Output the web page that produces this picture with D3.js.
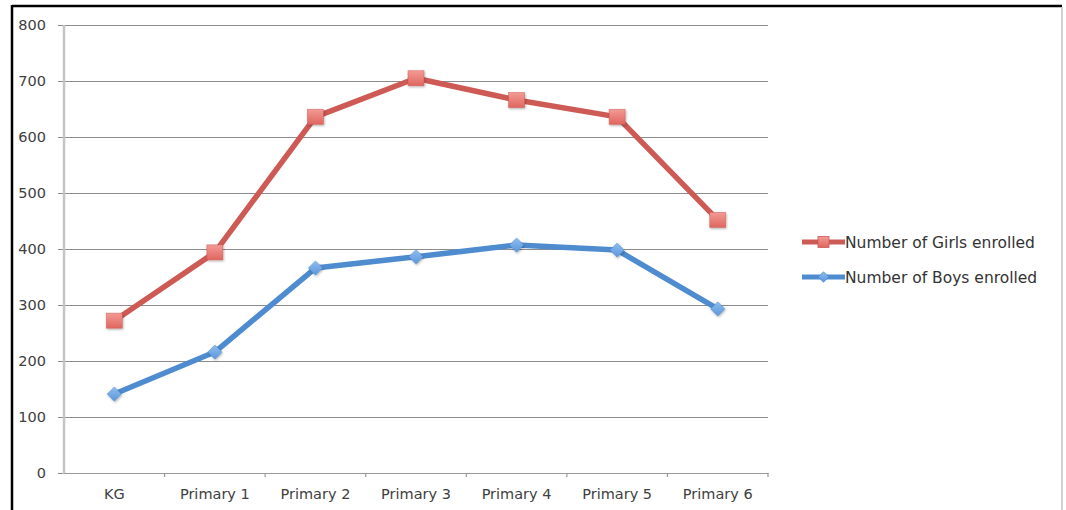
<!DOCTYPE html>
<html>
<head>
<meta charset="utf-8">
<script src="https://cdn.jsdelivr.net/npm/d3@7/dist/d3.min.js"></script>
<style>
  html, body { margin: 0; padding: 0; background: #fff; }
  svg { display: block; }
  text { font-family: "DejaVu Sans", Verdana, sans-serif; }
</style>
</head>
<body>
<svg id="chart" width="1066" height="510"></svg>
<script>
const categories = ["KG", "Primary 1", "Primary 2", "Primary 3", "Primary 4", "Primary 5", "Primary 6"];
const girls = [272, 394, 636, 705, 666, 636, 452];
const boys = [141, 216, 366, 386, 407, 398, 293];
const yTicks = [0, 100, 200, 300, 400, 500, 600, 700, 800];
const seriesNames = ["Number of Girls enrolled", "Number of Boys enrolled"];

const svg = d3.select("#chart");
const W = 1066, H = 510;

// frame
svg.append("rect").attr("x", 0).attr("y", 0).attr("width", W).attr("height", H).attr("fill", "#fff");
svg.append("line").attr("x1", 12).attr("x2", 1062).attr("y1", 6).attr("y2", 6).attr("stroke", "#000").attr("stroke-width", 2.5);
svg.append("line").attr("x1", 12).attr("x2", 12).attr("y1", 5).attr("y2", H).attr("stroke", "#000").attr("stroke-width", 2.5);
svg.append("line").attr("x1", 1062).attr("x2", 1062).attr("y1", 7).attr("y2", H).attr("stroke", "#d0d0d0").attr("stroke-width", 2);

const plot = { left: 64, right: 768, top: 25, bottom: 473 };

const x = d3.scaleBand().domain(categories).range([plot.left, plot.right]);
const y = d3.scaleLinear().domain([0, 800]).range([plot.bottom, plot.top]);

// drop shadow for markers
const defs = svg.append("defs");
const f = defs.append("filter").attr("id", "shadow").attr("x", "-50%").attr("y", "-50%").attr("width", "200%").attr("height", "200%");
f.append("feDropShadow").attr("dx", 0.8).attr("dy", 1.2).attr("stdDeviation", 1).attr("flood-color", "#000").attr("flood-opacity", 0.3);

const gRed = defs.append("linearGradient").attr("id", "gradRed").attr("x1", 0).attr("y1", 0).attr("x2", 0).attr("y2", 1);
gRed.append("stop").attr("offset", "0%").attr("stop-color", "#f39a94");
gRed.append("stop").attr("offset", "100%").attr("stop-color", "#e06660");
const gBlue = defs.append("linearGradient").attr("id", "gradBlue").attr("x1", 0).attr("y1", 0).attr("x2", 0).attr("y2", 1);
gBlue.append("stop").attr("offset", "0%").attr("stop-color", "#8fbdf0");
gBlue.append("stop").attr("offset", "100%").attr("stop-color", "#5b97da");

// gridlines + y labels
const gy = svg.append("g").attr("transform", `translate(${plot.right},0)`);
gy.call(d3.axisLeft(y).tickValues(yTicks).tickSize(plot.right - plot.left + 6).tickPadding(12));
gy.select(".domain").remove();
gy.selectAll(".tick line").attr("stroke", "#8c8c8c").attr("stroke-width", 1);
gy.selectAll(".tick text").attr("fill", "#404040").attr("font-size", 14.5);

// y axis line
svg.append("line").attr("x1", plot.left).attr("x2", plot.left).attr("y1", plot.top).attr("y2", plot.bottom + 1)
  .attr("stroke", "#c4c4c4").attr("stroke-width", 2.5);

// x axis
const gx = svg.append("g").attr("transform", `translate(0,${plot.bottom})`);
gx.call(d3.axisBottom(x).tickSize(0).tickPadding(16));
gx.select(".domain").attr("stroke", "#9a9a9a").attr("stroke-width", 1.2);
gx.selectAll(".tick text").attr("fill", "#404040").attr("font-size", 14.5);
// category boundary ticks
const bounds = categories.map(c => x(c)).concat([x(categories[categories.length - 1]) + x.bandwidth()]);
gx.selectAll(".bound").data(bounds.slice(1)).enter().append("line")
  .attr("x1", d => d).attr("x2", d => d).attr("y1", 0).attr("y2", 4)
  .attr("stroke", "#9a9a9a").attr("stroke-width", 1.2);

const cx = c => x(c) + x.bandwidth() / 2;
const line = d3.line().x(d => cx(d.c)).y(d => y(d.v));

function series(values, color, fillId, shape) {
  const data = categories.map((c, i) => ({ c, v: values[i] }));
  svg.append("path").datum(data).attr("d", line).attr("fill", "none")
    .attr("stroke", color).attr("stroke-width", 5.5).attr("stroke-linejoin", "round");
  const g = svg.append("g").attr("filter", "url(#shadow)");
  data.forEach(d => drawMarker(g, cx(d.c), y(d.v), shape, fillId, color));
}

function drawMarker(g, px, py, shape, fillId, color) {
  if (shape === "square") {
    g.append("rect").attr("x", px - 8).attr("y", py - 7.5).attr("width", 16).attr("height", 15)
      .attr("fill", `url(#${fillId})`).attr("stroke", color).attr("stroke-width", 0.8).attr("stroke-opacity", 0.6);
  } else {
    g.append("path").attr("d", d3.symbol(d3.symbolDiamond2, 130)())
      .attr("transform", `translate(${px},${py})`)
      .attr("fill", `url(#${fillId})`).attr("stroke", color).attr("stroke-width", 0.8).attr("stroke-opacity", 0.6);
  }
}

series(girls, "#cd5a55", "gradRed", "square");
series(boys, "#4f8ccf", "gradBlue", "diamond");

// legend
const legend = [
  { name: seriesNames[0], color: "#cd5a55", fill: "gradRed", shape: "square", y: 242 },
  { name: seriesNames[1], color: "#4f8ccf", fill: "gradBlue", shape: "diamond", y: 277 }
];
legend.forEach(l => {
  svg.append("line").attr("x1", 802).attr("x2", 845).attr("y1", l.y).attr("y2", l.y)
    .attr("stroke", l.color).attr("stroke-width", 5);
  const g = svg.append("g");
  if (l.shape === "square") {
    g.append("rect").attr("x", 818).attr("y", l.y - 5.5).attr("width", 11).attr("height", 11)
      .attr("fill", `url(#${l.fill})`).attr("stroke", l.color).attr("stroke-width", 0.8);
  } else {
    g.append("path").attr("d", d3.symbol(d3.symbolDiamond2, 70)())
      .attr("transform", `translate(823.5,${l.y})`)
      .attr("fill", `url(#${l.fill})`).attr("stroke", l.color).attr("stroke-width", 0.8);
  }
  svg.append("text").attr("x", 845).attr("y", l.y).attr("dy", "0.36em")
    .attr("fill", "#333").attr("font-size", 15.5).text(l.name);
});
</script>
</body>
</html>
